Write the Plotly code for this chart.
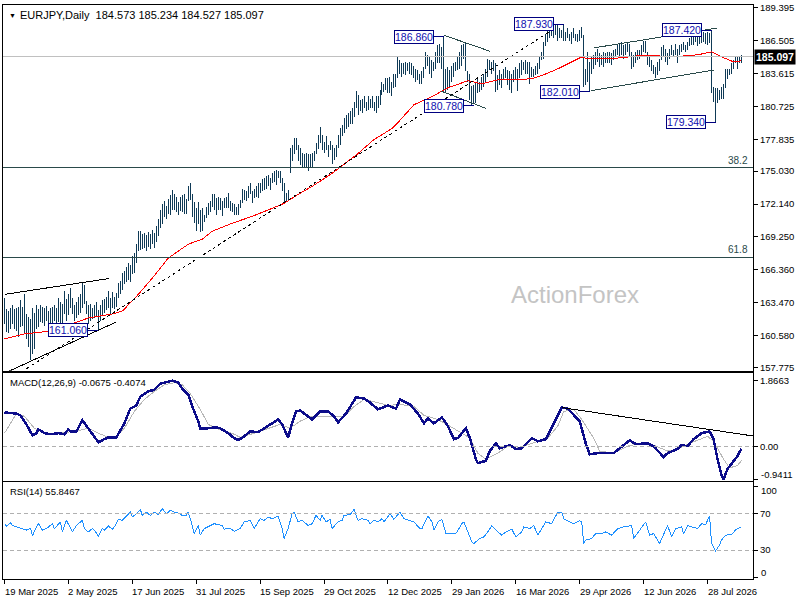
import plotly.graph_objects as go

# EURJPY daily bars, one entry per trading day starting 19 Mar 2025
highs = [
    163.9, 162.9, 162.7, 163.0, 163.3, 162.9, 163.0, 163.1, 163.7, 163.1,
    164.2, 162.5, 162.2, 162.0, 163.0, 162.6, 163.3, 162.9, 163.3, 163.1,
    163.0, 163.2, 162.7, 163.0, 163.1, 163.3, 163.0, 163.9, 163.5, 163.4,
    164.5, 163.8, 164.2, 164.8, 163.9, 163.3, 163.5, 164.0, 164.2, 165.2,
    165.0, 163.6, 163.3, 163.4, 163.0, 163.3, 163.5, 162.8, 163.3, 163.7,
    163.8, 164.0, 164.5, 163.9, 164.4, 164.0, 164.3, 165.2, 165.4, 166.1,
    166.3, 166.6, 167.0, 166.8, 167.6, 167.8, 168.6, 169.8, 169.8, 169.5,
    169.6, 169.4, 169.7, 169.5, 169.9, 169.6, 170.2, 170.8, 171.6, 172.1,
    172.4, 172.0, 172.6, 172.9, 173.4, 173.0, 172.8, 172.3, 172.8, 172.9,
    173.0, 172.6, 173.7, 174.0, 173.0, 172.3, 171.8, 172.3, 171.6, 171.8,
    171.2, 171.9, 172.2, 172.4, 173.0, 173.0, 172.7, 172.8, 172.7, 172.4,
    172.7, 172.8, 173.1, 172.4, 172.2, 172.1, 171.9, 172.1, 172.5, 173.5,
    173.4, 173.3, 173.7, 174.0, 173.3, 173.5, 173.7, 174.0, 174.0, 174.3,
    174.4, 174.6, 174.7, 174.4, 174.9, 175.0, 175.15, 175.0, 175.0, 174.4,
    174.0, 173.1, 173.4, 177.05, 177.3, 177.9, 177.9, 177.3, 177.05, 176.6,
    176.5, 176.6, 176.5, 176.5, 176.6, 176.8, 177.5, 178.2, 178.9, 178.2,
    177.6, 178.1, 177.3, 177.7, 177.3, 177.05, 177.3, 178.2, 178.8, 179.1,
    179.7, 180.0, 180.1, 180.3, 180.55, 181.1, 182.1, 181.7, 181.3, 181.4,
    181.6, 181.1, 181.6, 181.4, 181.6, 181.1, 181.6, 181.6, 182.2, 182.9,
    182.7, 183.2, 183.2, 183.3, 182.9, 183.6, 183.6, 185.1, 184.8, 184.5,
    184.5, 184.6, 184.5, 184.6, 184.5, 184.3, 184.05, 183.9, 183.6, 183.8,
    184.2, 185.5, 185.2, 185.1, 184.8, 184.6, 185.5, 186.1, 186.2, 185.95,
    186.86, 184.05, 184.2, 183.9, 184.3, 184.5, 184.6, 185.1, 185.5, 186.1,
    186.2, 186.4, 183.8, 183.6, 182.5, 182.6, 182.9, 183.2, 182.9, 183.3,
    183.6, 184.05, 184.9, 184.8, 184.6, 184.8, 184.5, 183.5, 183.9, 183.6,
    184.05, 184.2, 183.9, 183.8, 183.6, 183.9, 184.2, 184.05, 184.5, 184.8,
    184.6, 184.8, 184.6, 184.6, 184.2, 184.05, 184.3, 184.5, 185.1, 185.5,
    186.4, 187.1, 187.6, 187.85, 187.7, 187.85, 187.9, 187.9, 187.6, 187.4,
    187.93, 187.3, 187.6, 187.1, 187.3, 187.6, 187.1, 187.1, 187.4, 187.7,
    187.0, 184.05, 185.5, 184.6, 185.1, 185.2, 185.5, 185.8, 185.4, 185.2,
    185.5, 185.4, 185.5, 185.5, 185.4, 185.7, 185.8, 186.1, 186.2, 186.4,
    186.1, 186.2, 186.4, 186.2, 185.5, 185.2, 185.5, 185.7, 185.7, 186.1,
    186.5, 186.5, 185.5, 185.2, 184.8, 184.35, 184.2, 184.6, 184.9, 185.95,
    186.1, 185.8, 185.4, 185.8, 186.1, 185.7, 186.2, 185.8, 186.1, 186.2,
    186.4, 186.1, 186.4, 186.7, 187.0, 187.1, 187.3, 187.1, 187.4, 187.2,
    187.3, 187.2, 187.3, 187.2, 187.42, 182.45, 182.3, 182.3, 182.2, 182.45,
    182.7, 184.0, 184.0, 184.0, 184.5, 184.8, 185.1, 185.1, 185.1, 185.234,
]
lows = [
    161.6, 160.9, 160.8, 161.2, 161.6, 161.2, 161.0, 160.5, 161.3, 161.4,
    160.7, 160.3, 159.6, 158.4, 159.0, 159.4, 161.2, 161.3, 161.8, 161.7,
    161.4, 161.9, 161.3, 161.5, 161.7, 161.9, 161.5, 161.8, 161.6, 161.4,
    162.5, 161.9, 162.4, 163.0, 162.5, 161.9, 162.1, 162.4, 162.6, 163.0,
    163.4, 162.5, 161.6, 161.9, 162.0, 162.1, 162.2, 161.06, 161.9, 162.4,
    162.6, 162.8, 163.0, 162.5, 163.0, 162.9, 163.1, 163.9, 164.2, 164.6,
    165.1, 165.3, 165.5, 165.3, 166.0, 166.1, 167.0, 168.0, 168.1, 168.2,
    168.3, 168.0, 168.4, 168.2, 168.6, 168.3, 168.8, 169.3, 170.0, 170.4,
    171.0, 170.8, 171.3, 171.2, 171.6, 171.6, 171.4, 171.2, 171.5, 171.4,
    171.3, 171.3, 172.4, 172.5, 171.0, 170.5, 169.8, 170.4, 169.7, 169.75,
    170.6, 170.9, 171.2, 171.4, 171.9, 171.6, 171.2, 171.6, 171.6, 171.1,
    171.8, 171.8, 171.8, 171.5, 171.4, 171.2, 171.2, 171.2, 171.8, 172.2,
    172.5, 172.4, 172.7, 173.0, 172.2, 172.7, 172.8, 172.7, 173.1, 173.3,
    173.4, 173.5, 173.7, 173.4, 174.0, 174.1, 173.8, 174.4, 174.0, 173.3,
    172.2, 172.4, 172.4, 174.9, 175.9, 176.5, 176.9, 175.9, 175.6, 175.4,
    175.4, 175.3, 175.0, 175.3, 175.4, 175.9, 176.5, 177.0, 177.5, 176.9,
    176.6, 176.9, 176.3, 176.9, 175.7, 176.0, 176.3, 177.05, 177.3, 178.1,
    178.4, 178.7, 178.9, 179.2, 179.2, 179.8, 180.55, 180.0, 180.3, 180.1,
    180.55, 180.3, 180.4, 180.55, 180.55, 180.3, 180.1, 180.55, 180.8, 181.7,
    182.0, 182.2, 181.9, 181.9, 181.6, 182.3, 182.4, 183.2, 183.6, 183.3,
    183.6, 183.5, 183.8, 183.6, 183.5, 183.2, 182.9, 183.0, 182.7, 182.7,
    183.2, 184.05, 184.3, 183.6, 183.2, 183.8, 184.05, 184.5, 184.5, 184.05,
    182.0, 181.9, 182.2, 182.4, 182.9, 183.3, 183.8, 183.9, 184.05, 184.3,
    184.9, 183.8, 182.9, 181.3, 180.78, 181.0, 181.0, 181.9, 182.0, 182.2,
    182.45, 182.9, 183.3, 183.9, 183.6, 183.8, 182.0, 182.2, 182.6, 182.3,
    183.0, 183.2, 182.6, 182.2, 181.9, 182.9, 183.0, 182.1, 183.2, 183.5,
    183.9, 183.6, 183.6, 182.7, 183.3, 183.3, 183.5, 183.6, 184.05, 184.8,
    184.9, 186.0, 186.4, 186.7, 186.9, 186.7, 187.0, 186.5, 186.7, 186.7,
    186.5, 186.5, 186.7, 186.5, 186.2, 186.7, 186.5, 186.4, 186.5, 186.7,
    182.45, 182.6, 182.9, 182.01, 183.6, 184.05, 184.35, 184.6, 184.2, 184.35,
    184.2, 184.5, 184.5, 184.5, 184.35, 184.8, 185.1, 185.2, 185.1, 185.2,
    184.9, 185.2, 185.5, 185.1, 184.05, 184.2, 184.5, 184.8, 184.9, 185.2,
    185.5, 185.4, 184.35, 184.2, 183.8, 183.6, 183.2, 183.5, 183.8, 184.8,
    185.1, 184.6, 184.35, 184.9, 185.2, 185.1, 185.2, 184.5, 185.2, 185.5,
    185.7, 185.5, 185.7, 186.0, 186.1, 186.1, 186.4, 186.0, 186.2, 186.3,
    186.4, 186.2, 186.1, 186.3, 181.9, 181.1, 179.34, 181.0, 181.3, 181.4,
    181.4, 182.3, 183.15, 183.5, 183.6, 184.0, 184.5, 184.0, 184.5, 184.527,
]

date_labels = ["19 Mar 2025", "2 May 2025", "17 Jun 2025", "31 Jul 2025",
               "15 Sep 2025", "29 Oct 2025", "12 Dec 2025", "29 Jan 2026",
               "16 Mar 2026", "29 Apr 2026", "12 Jun 2026", "28 Jul 2026"]
date_bars = [0, 32, 64, 96, 128, 160, 192, 224, 256, 288, 320, 352]

# 55 day EMA (red)
ma_bars = [0, 10, 24, 34, 42, 54, 59, 65, 74, 82, 92, 99, 104, 114, 124, 134,
           140, 147, 154, 164, 170, 177, 185, 194, 197, 205, 214, 222, 232, 239,
           247, 255, 264, 270, 277, 289, 292, 300, 309, 317, 327, 334, 347, 354,
           359, 365, 369]
ma_vals = [160.29, 160.73, 160.99, 161.61, 162.13, 162.48, 162.74, 163.8, 165.63,
           167.39, 168.61, 169.05, 169.75, 170.45, 171.06, 171.76, 172.2, 172.99,
           173.69, 174.83, 175.62, 176.58, 177.81, 178.77, 179.3, 180.87, 181.57,
           182.36, 182.97, 182.71, 183.06, 183.06, 183.15, 183.5, 184.02, 185.07,
           184.9, 184.9, 184.99, 185.16, 185.16, 185.07, 185.25, 185.51, 185.07,
           184.64, 184.72]

macd_bars = [0, 4, 6, 8, 11, 14, 16, 17, 20, 23, 27, 30, 32, 33, 36, 39, 42, 44,
             47, 50, 52, 56, 60, 63, 66, 68, 72, 75, 78, 82, 84, 87, 89, 92, 94,
             97, 98, 102, 106, 108, 112, 115, 117, 120, 123, 127, 132, 137, 139,
             142, 144, 146, 148, 151, 154, 158, 162, 165, 167, 171, 173, 176, 180,
             183, 187, 192, 196, 198, 203, 207, 210, 212, 215, 219, 222, 225, 227,
             231, 233, 236, 237, 241, 243, 246, 248, 253, 256, 259, 262, 264, 267,
             271, 273, 277, 279, 282, 285, 288, 291, 293, 297, 305, 308, 313, 316,
             322, 325, 330, 332, 337, 339, 342, 345, 349, 353, 355, 357, 359, 360,
             362, 367, 369]
macd_main = [0.96, 0.93, 0.93, 0.88, 0.62, 0.31, 0.37, 0.48, 0.37, 0.34,
             0.37, 0.34, 0.48, 0.42, 0.42, 0.74, 0.51, 0.37, 0.11, 0.20,
             0.25, 0.25, 0.65, 1.07, 1.16, 1.41, 1.56, 1.61, 1.78, 1.84,
             1.8663, 1.81, 1.64, 1.47, 1.13, 0.71, 0.51, 0.51, 0.54, 0.51,
             0.37, 0.23, 0.17, 0.28, 0.42, 0.40, 0.57, 0.76, 0.62, 0.25,
             0.65, 0.99, 1.02, 0.90, 0.76, 0.99, 0.99, 0.85, 0.68, 0.93,
             1.10, 1.39, 1.36, 1.24, 1.05, 1.16, 1.07, 1.33, 1.19, 0.93,
             0.65, 0.79, 0.65, 0.82, 0.57, 0.20, 0.23, 0.51, 0.23, -0.37,
             -0.48, -0.42, -0.14, 0.08, -0.06, 0.03, -0.08, -0.06, 0.11, 0.23,
             0.14, 0.20, 0.42, 0.85, 1.10, 1.07, 0.90, 0.71, 0.08, -0.23,
             -0.20, -0.20, -0.06, 0.17, 0.06, 0.08, 0.00, -0.31, -0.20, -0.08,
             0.03, 0.00, 0.20, 0.37, 0.42, 0.20, -0.37, -0.82, -0.9411, -0.65,
             -0.28, -0.0675]
sig_bars = [0, 4, 6, 10, 15, 20, 27, 35, 42, 47, 52, 56, 60, 65, 70, 75, 80, 85,
            89, 93, 98, 102, 106, 115, 118, 125, 132, 138, 143, 148, 153, 160,
            167, 170, 175, 180, 185, 192, 198, 205, 210, 217, 223, 229, 233, 237,
            241, 247, 252, 258, 265, 272, 277, 280, 285, 289, 295, 298, 305, 312,
            318, 325, 332, 337, 343, 352, 355, 360, 363, 367, 369]
macd_sig = [0.37, 0.76, 0.93, 0.85, 0.51, 0.37, 0.37, 0.42, 0.51, 0.37,
            0.25, 0.28, 0.51, 0.99, 1.33, 1.56, 1.75, 1.81, 1.75, 1.50,
            1.05, 0.62, 0.51, 0.34, 0.25, 0.37, 0.51, 0.62, 0.51, 0.71,
            0.85, 0.85, 0.85, 0.85, 1.13, 1.33, 1.27, 1.16, 1.19, 1.13,
            0.88, 0.76, 0.57, 0.37, 0.23, -0.20, -0.37, -0.20, 0.00, -0.03,
            0.11, 0.23, 0.57, 0.99, 1.05, 0.76, 0.23, -0.14, -0.20, 0.00,
            0.08, 0.03, -0.14, -0.08, 0.08, 0.28, 0.14, -0.37, -0.62, -0.55,
            -0.4074]

rsi_bars = [0, 1, 3, 4, 6, 9, 11, 13, 14, 16, 17, 19, 21, 24, 25, 28, 29, 31, 33,
            34, 36, 39, 40, 42, 44, 45, 47, 49, 50, 52, 54, 55, 57, 59, 61, 63,
            64, 66, 68, 69, 71, 73, 75, 77, 79, 81, 83, 85, 88, 89, 91, 92, 94,
            95, 97, 98, 100, 103, 105, 109, 110, 113, 115, 118, 120, 123, 125,
            128, 130, 132, 134, 137, 139, 140, 142, 144, 145, 147, 149, 152, 154,
            156, 158, 159, 161, 163, 164, 167, 169, 170, 173, 175, 177, 179, 182,
            183, 185, 187, 189, 190, 193, 195, 198,
            200, 203, 205, 208, 209, 212, 214, 215, 217, 219, 221, 224, 226, 229,
            230, 232, 234, 235, 238, 240, 242, 244, 246, 249, 251, 254, 256, 259,
            260, 263, 265, 267, 269, 271, 274, 275, 277, 279, 280, 283, 285, 288,
            289, 290, 291, 294, 296, 299, 301, 304, 307, 310, 314, 315, 318, 321,
            323, 325, 328, 330, 332, 334, 336, 339, 340, 342, 344, 347, 349, 351,
            353, 354, 356, 358, 359, 361, 364, 366, 369]
rsi_vals = [59, 56.5, 60, 57, 55.5, 53.6, 52, 54, 45.6, 55.5,
            59, 52, 53.6, 59, 53.6, 61, 50, 62.7, 53.6, 50,
            57, 62.7, 53.6, 50, 53.6, 52, 45.6, 53.6, 52, 56.5,
            53, 55.5, 63.8, 62.7, 67.5, 71.8, 66.4, 70, 74.7, 68.2,
            71.8, 68.2, 71.8, 69, 75.5, 70, 73.6, 71.8, 70, 67.5,
            68.2, 71.8, 57, 48, 57, 46.4, 53.6, 57, 59, 57,
            53, 54, 50.7, 53.6, 61, 62.7, 53.6, 64.5, 62.7, 66.4,
            64.5, 67.5, 53.6, 42.7, 53.6, 70, 71.8, 61, 62.7, 57,
            59, 68.2, 62.7, 68.2, 61, 63.8, 53.6, 61, 62.7, 68.2,
            69, 74.7, 62.7, 64.5, 62.7, 59, 62.7, 61, 64.5, 61,
            70, 63.8, 71.8,
            64.5, 62.7, 61, 53.6, 53.6, 67.5, 61, 52, 61, 63.8,
            48.2, 48.2, 48.2, 59, 61, 50, 39, 37.3, 42.7, 44.5,
            50, 57, 52, 46.4, 50, 53, 44.5, 50, 55.5, 53.6,
            57, 46.4, 53.6, 61, 59, 63.8, 71, 71.8, 64.5, 61,
            59, 62.4, 61, 37.3, 40.9, 42.7, 48.2, 48.2, 50, 46.4,
            53.6, 55.5, 57, 42.7, 52, 61, 46.4, 48.2, 37.3, 48.2,
            57, 44.5, 53.6, 55.5, 48.2, 57, 55.5, 53.6, 59, 58,
            67.5, 37.3, 29, 35.5, 41, 46.4, 47, 52, 55.85]

price_ticks = [189.395, 186.505, 183.615, 180.725, 177.835, 175.030,
               172.140, 169.250, 166.360, 163.470, 160.580, 157.775]
macd_ticks = [1.8663, 0.0, -0.9411]
macd_tick_text = ["1.8663", "0.00", "-0.9411"]
rsi_ticks = [100, 70, 30, 0]
rsi_levels = [70, 30]

last_ohlc = [184.573, 185.234, 184.527, 185.097]
fib_levels = [175.35, 167.47]
fib_names = ["38.2", "61.8"]

# swing high/low price labels
swing_bars = [220, 235, 280, 293, 354, 356, 47]
swing_vals = [186.86, 180.78, 187.93, 182.01, 187.42, 179.34, 161.06]

# hand drawn lines: (bar, price) end points
wedge_upper = [(0, 164.2), (52.5, 165.6)]
wedge_lower = [(0, 157.27), (56, 161.78)]
long_trend = [(11, 157.67), (275, 187.53)]
tri_upper = [(220, 186.97), (243, 185.57)]
tri_lower = [(218.5, 182.07), (241, 180.55)]
chan_upper = [(295, 185.86), (357, 187.61)]
chan_lower = [(293.5, 182.10), (355, 183.91)]
macd_trend = [(279, 1.10), (376, 0.28)]

FONT = "Liberation Sans Narrow, Liberation Sans, Arial, sans-serif"
LABEL_FONT = "Liberation Sans, Arial, sans-serif"
BAR_COL = "#0f3a56"
LINE_COL = "#2a4a4a"

fig = go.Figure()

bx, by = [], []
for i, (lo, hi) in enumerate(zip(lows, highs)):
    bx += [i, i, None]
    by += [lo, hi, None]
fig.add_trace(go.Scatter(x=bx, y=by, mode="lines", line=dict(color=BAR_COL, width=1),
                         xaxis="x", yaxis="y", hoverinfo="skip"))
fig.add_trace(go.Scatter(x=ma_bars, y=ma_vals, mode="lines",
                         line=dict(color="#ff0000", width=1), xaxis="x", yaxis="y"))


def add_line(pts, color, dash="solid", yaxis="y", xaxis="x"):
    fig.add_trace(go.Scatter(x=[p[0] for p in pts], y=[p[1] for p in pts], mode="lines",
                             line=dict(color=color, width=1, dash=dash),
                             xaxis=xaxis, yaxis=yaxis, hoverinfo="skip"))


add_line(wedge_upper, "#000000")
add_line(wedge_lower, "#000000")
add_line(long_trend, "#000000", dash="3px,3px")
add_line(tri_upper, LINE_COL)
add_line(tri_lower, LINE_COL)
add_line(chan_upper, LINE_COL)
add_line(chan_lower, LINE_COL)

# MACD panel
fig.add_trace(go.Scatter(x=sig_bars, y=macd_sig, mode="lines",
                         line=dict(color="#b8b8b8", width=1), xaxis="x2", yaxis="y2"))
fig.add_trace(go.Scatter(x=macd_bars, y=macd_main, mode="lines",
                         line=dict(color="#0c0c8a", width=2.5), xaxis="x2", yaxis="y2"))
add_line(macd_trend, "#000000", yaxis="y2", xaxis="x2")

# RSI panel
fig.add_trace(go.Scatter(x=rsi_bars, y=rsi_vals, mode="lines",
                         line=dict(color="#1e90ff", width=1), xaxis="x3", yaxis="y3"))

shapes = []
# current bid line
shapes.append(dict(type="line", xref="x domain", yref="y", x0=0, x1=1,
                   y0=last_ohlc[3], y1=last_ohlc[3], line=dict(color="#c0c0c0", width=1)))
for lv in fib_levels:
    shapes.append(dict(type="line", xref="x domain", yref="y", x0=0, x1=1,
                       y0=lv, y1=lv, line=dict(color=LINE_COL, width=1)))
shapes.append(dict(type="line", xref="x2 domain", yref="y2", x0=0, x1=1, y0=0, y1=0,
                   line=dict(color="#b0b0b0", width=1, dash="4px,3px")))
for lv in rsi_levels:
    shapes.append(dict(type="line", xref="x3 domain", yref="y3", x0=0, x1=1,
                       y0=lv, y1=lv, line=dict(color="#b0b0b0", width=1, dash="4px,3px")))

annotations = []
gap = 5
for b, v in zip(swing_bars, swing_vals):
    shapes.append(dict(type="line", xref="x", yref="y", x0=b - gap, x1=b, y0=v, y1=v,
                       line=dict(color="#000080", width=1)))
    annotations.append(dict(x=b - gap, y=v, xref="x", yref="y", xanchor="right",
                            yanchor="middle", text=f"{v:.3f}", showarrow=False,
                            font=dict(family=LABEL_FONT, size=10.5, color="#1010b0"),
                            bgcolor="white", bordercolor="#000080", borderwidth=1,
                            borderpad=0))

for name, lv in zip(fib_names, fib_levels):
    annotations.append(dict(x=1, y=lv, xref="paper", yref="y", xanchor="right",
                            yanchor="bottom", xshift=-3, text=name, showarrow=False,
                            font=dict(family=FONT, size=10, color=LINE_COL)))

annotations.append(dict(x=1, y=last_ohlc[3], xref="paper", yref="y", xanchor="left",
                        yanchor="middle", xshift=1, text=f"<b>{last_ohlc[3]:.3f}</b>",
                        showarrow=False, bgcolor="#000000", borderpad=1,
                        font=dict(family=FONT, size=10.5, color="white")))

annotations.append(dict(x=0, y=1, xref="paper", yref="paper", xanchor="left",
                        yanchor="top", xshift=4, yshift=-5, text="▼", showarrow=False,
                        font=dict(family=LABEL_FONT, size=7, color="black")))
annotations.append(dict(x=0, y=1, xref="paper", yref="paper", xanchor="left",
                        yanchor="top", xshift=15, yshift=-2, showarrow=False,
                        text="EURJPY,Daily  " + " ".join(f"{v:.3f}" for v in last_ohlc),
                        font=dict(family=FONT, size=11, color="black")))
annotations.append(dict(x=0, y=1, xref="paper", yref="y2 domain", xanchor="left",
                        yanchor="top", xshift=5, yshift=-2, showarrow=False,
                        text="MACD(12,26,9) -0.0675 -0.4074",
                        font=dict(family=FONT, size=9.5, color="black")))
annotations.append(dict(x=0, y=1, xref="paper", yref="y3 domain", xanchor="left",
                        yanchor="top", xshift=5, yshift=-2, showarrow=False,
                        text="RSI(14) 55.8467",
                        font=dict(family=FONT, size=9.5, color="black")))
annotations.append(dict(x=0.763, y=164.2, xref="paper", yref="y", xanchor="center",
                        showarrow=False, text="ActionForex",
                        font=dict(family=LABEL_FONT, size=24, color="#c4c4c4")))

for lbl, b in zip(date_labels, date_bars):
    annotations.append(dict(x=b, y=0, xref="x3", yref="paper", xanchor="left",
                            yanchor="top", xshift=-2, yshift=-5, text=lbl,
                            showarrow=False, font=dict(family=FONT, size=9.5, color="black")))

# indicator scale labels at the window edges are nudged inwards, like the terminal does
tick_font = dict(family=FONT, size=9.5, color="black")
edge_labels = [("y2", macd_ticks[2], macd_tick_text[2], 5),
               ("y3", rsi_ticks[0], str(rsi_ticks[0]), -4),
               ("y3", rsi_ticks[3], str(rsi_ticks[3]), 5)]
for yr, v, txt, shift in edge_labels:
    annotations.append(dict(x=1, y=v, xref="paper", yref=yr, xanchor="left",
                            yanchor="middle", xshift=6, yshift=shift, text=txt,
                            showarrow=False, font=tick_font))

axis_common = dict(showgrid=False, zeroline=False, showline=True, mirror=True,
                   linecolor="black", linewidth=1)
x_common = dict(range=[-0.75, 374.75], showticklabels=False, **axis_common)
y_common = dict(side="right", ticks="outside", ticklen=4, tickcolor="black",
                tickfont=tick_font, ticklabeloverflow="allow", **axis_common)

fig.update_layout(
    width=800, height=600,
    margin=dict(l=2, r=47, t=3, b=21),
    plot_bgcolor="white", paper_bgcolor="white",
    showlegend=False,
    shapes=shapes, annotations=annotations,
    xaxis=dict(anchor="y", ticks="", **x_common),
    xaxis2=dict(anchor="y2", matches="x", ticks="", **x_common),
    xaxis3=dict(anchor="y3", matches="x", tickvals=date_bars, ticks="outside",
                ticklen=4, tickcolor="black", **x_common),
    yaxis=dict(domain=[0.3628, 1], range=[157.49, 189.63], anchor="x",
               tickvals=price_ticks, ticktext=[f"{v:.3f}" for v in price_ticks], **y_common),
    yaxis2=dict(domain=[0.1701, 0.3594], range=[-1.003, 2.094], anchor="x2",
                tickvals=macd_ticks, ticktext=[macd_tick_text[0], macd_tick_text[1], ""],
                **y_common),
    yaxis3=dict(domain=[0, 0.1684], range=[-1.8, 104.5], anchor="x3",
                tickvals=rsi_ticks, ticktext=["", "70", "30", ""], **y_common),
)

# terminal-style aliased lines and no page margin
crisp = ("document.body.style.margin = '0';"
         "function crisp(){document.querySelectorAll('.scatterlayer path, .shapelayer path')"
         ".forEach(function(p){p.setAttribute('shape-rendering', 'crispEdges');});}"
         "crisp(); setTimeout(crisp, 100);")
fig.write_html("out.html", config={"displayModeBar": False}, post_script=crisp)
